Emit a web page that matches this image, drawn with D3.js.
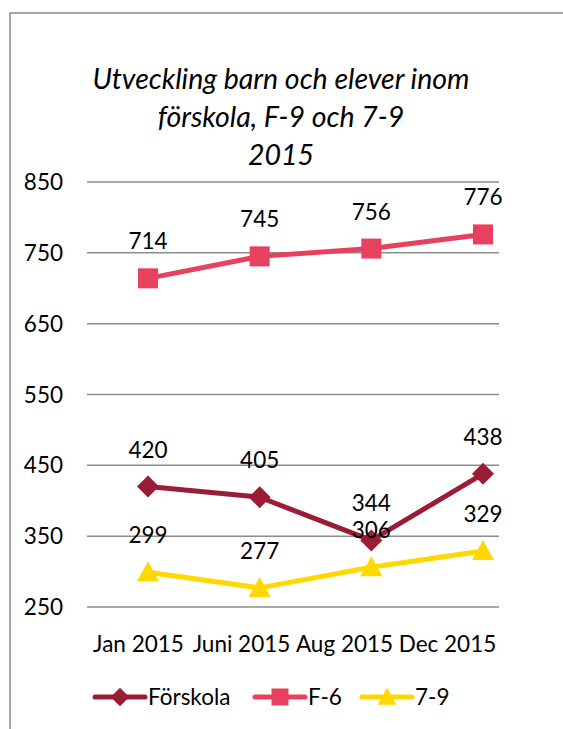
<!DOCTYPE html>
<html>
<head>
<style>
body {margin: 0; background: #fff; font-family: Lato, "Noto Sans", sans-serif;}
</style>
<script src="https://cdnjs.cloudflare.com/ajax/libs/d3/7.8.5/d3.min.js"></script>
</head>
<body>
<div id="chart"></div>
<script>
    const months = ["Jan 2015", "Juni 2015", "Aug 2015", "Dec 2015"];
    const forskola = [420, 405, 344, 438];
    const f6 = [714, 745, 756, 776];
    const sju9 = [299, 277, 306, 329];
    const yTicks = [250, 350, 450, 550, 650, 750, 850];
    const titleLines = ["Utveckling barn och elever inom", "förskola, F-9 och 7-9", "2015"];

    const series = [
        { name: "Förskola", values: forskola, color: "#9b1c37", shape: "diamond" },
        { name: "F-6", values: f6, color: "#e8415f", shape: "square" },
        { name: "7-9", values: sju9, color: "#ffd800", shape: "triangle" }
    ];

    const W = 563, H = 729;
    const plot = { left: 87, right: 499, top: 182, bottom: 607 };
    const fs = "22.5px";

    const svg = d3.select("#chart").append("svg")
        .attr("width", W)
        .attr("height", H);

    // frame (only top & left visible in the crop)
    svg.append("path")
        .attr("d", `M10,${H} L10,13 L${W},13`)
        .attr("fill", "none")
        .attr("stroke", "#8a8a8a")
        .attr("stroke-width", 1.5);

    // title
    svg.append("text")
        .attr("x", 281)
        .attr("y", 89)
        .attr("text-anchor", "middle")
        .style("font-style", "italic")
        .style("font-size", "28.5px")
        .attr("fill", "#000")
        .selectAll("tspan")
        .data(titleLines)
        .join("tspan")
            .attr("x", 281)
            .attr("dy", (d, i) => i === 0 ? 0 : 38)
            .text(d => d);

    const y = d3.scaleLinear().domain([250, 850]).range([plot.bottom, plot.top]);
    const xBand = d3.scaleBand().domain(months).range([plot.left, plot.right]);
    const xPt = d3.scalePoint().domain(months).range([148, 483]);

    // gridlines
    svg.append("g")
        .selectAll("line")
        .data(yTicks)
        .join("line")
            .attr("x1", plot.left)
            .attr("x2", plot.right)
            .attr("y1", d => y(d))
            .attr("y2", d => y(d))
            .attr("stroke", "#8c8c8c")
            .attr("stroke-width", 1.5);

    // y axis labels
    svg.append("g")
        .selectAll("text")
        .data(yTicks)
        .join("text")
            .attr("x", 63)
            .attr("y", d => y(d) + 8)
            .attr("text-anchor", "end")
            .style("font-size", fs)
            .text(d => d);

    // x axis labels
    svg.append("g")
        .selectAll("text")
        .data(months)
        .join("text")
            .attr("x", d => xBand(d) + xBand.bandwidth() / 2)
            .attr("y", 652)
            .attr("text-anchor", "middle")
            .style("font-size", fs)
            .text(d => d);

    function marker(g, shape, color) {
        if (shape === "diamond") {
            g.append("path").attr("d", "M0,-11 L11,0 L0,11 L-11,0 Z").attr("fill", color);
        } else if (shape === "square") {
            g.append("rect").attr("x", -10).attr("y", -10).attr("width", 20).attr("height", 20).attr("fill", color);
        } else {
            g.append("path").attr("d", "M0,-11 L11,9 L-11,9 Z").attr("fill", color);
        }
    }

    const line = d3.line()
        .x((d, i) => xPt(months[i]))
        .y(d => y(d));

    series.forEach(s => {
        const g = svg.append("g");
        g.append("path")
            .attr("d", line(s.values))
            .attr("fill", "none")
            .attr("stroke", s.color)
            .attr("stroke-width", 5)
            .attr("stroke-linejoin", "round");
        s.values.forEach((v, i) => {
            const m = g.append("g").attr("transform", `translate(${xPt(months[i])},${y(v)})`);
            marker(m, s.shape, s.color);
        });
    });

    // data labels on top
    series.forEach(s => {
        svg.append("g")
            .selectAll("text")
            .data(s.values)
            .join("text")
                .attr("x", (d, i) => xPt(months[i]))
                .attr("y", d => y(d) - 29)
                .attr("text-anchor", "middle")
                .style("font-size", fs)
                .text(d => d);
    });

    // legend
    const legX = [95, 255, 362];
    const leg = svg.append("g")
        .selectAll("g")
        .data(series)
        .join("g")
            .attr("transform", (d, i) => `translate(${legX[i]},697)`);
    leg.append("line")
        .attr("x1", 0).attr("x2", 50)
        .attr("stroke", d => d.color)
        .attr("stroke-width", 5)
        .attr("stroke-linecap", "round");
    leg.each(function(d) {
        const m = d3.select(this).append("g").attr("transform", "translate(25,0) scale(0.85)");
        marker(m, d.shape, d.color);
    });
    leg.append("text")
        .attr("x", 53)
        .attr("y", 8)
        .style("font-size", fs)
        .text(d => d.name);
</script>
</body>
</html>
